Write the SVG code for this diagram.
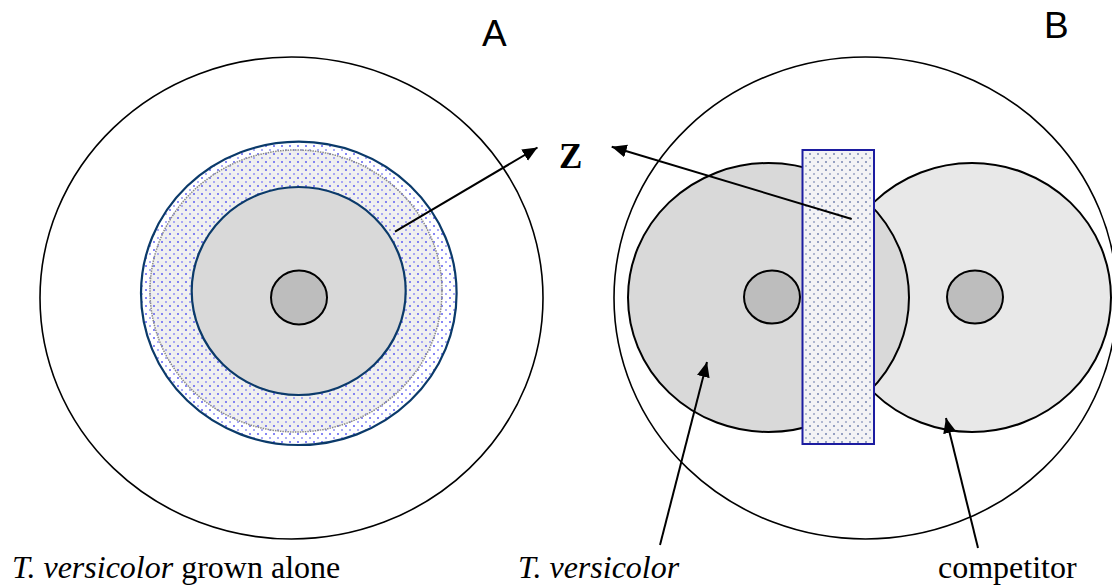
<svg xmlns="http://www.w3.org/2000/svg" width="1112" height="585" viewBox="0 0 1112 585">
  <style>
    .plate { fill: #ffffff; stroke: #000000; stroke-width: 1.6; }
    .navy { stroke: #0b3a6a; stroke-width: 2.2; }
    .plug { fill: #bdbdbd; stroke: #000000; stroke-width: 2; }
    .colony { stroke: #000000; stroke-width: 2; }
    .conn { stroke: #000000; stroke-width: 2; fill: none; marker-end: url(#arrow); }
    .lbl { font-family: "Liberation Serif", "Times New Roman", serif; font-size: 32px; fill: #000000; }
    .sans { font-family: "Liberation Sans", Arial, sans-serif; font-size: 37px; fill: #000000; }
  </style>
  <defs>
    <pattern id="dotsWhite" width="8" height="8" patternUnits="userSpaceOnUse">
      <rect width="8" height="8" fill="#ffffff"/>
      <circle cx="2" cy="2" r="1" fill="#5f5ff2"/>
      <circle cx="6" cy="6" r="1" fill="#8f8ff6"/>
    </pattern>
    <pattern id="dotsGray" width="8" height="8" patternUnits="userSpaceOnUse">
      <rect width="8" height="8" fill="#eeeeee"/>
      <path d="M0,4 H8 M4,0 V8" stroke="#f7f7f7" stroke-width="0.6"/>
      <circle cx="2" cy="2" r="1" fill="#5f5ff2"/>
      <circle cx="6" cy="6" r="1" fill="#8f8ff6"/>
    </pattern>
    <pattern id="dotsRect" width="8" height="8" patternUnits="userSpaceOnUse">
      <rect width="8" height="8" fill="#f3f3f5"/>
      <circle cx="2" cy="2" r="1" fill="#7585b0"/>
      <circle cx="6" cy="6" r="1" fill="#98a3c4"/>
    </pattern>
    <marker id="arrow" markerUnits="userSpaceOnUse" markerWidth="16" markerHeight="14" refX="15" refY="6.5" orient="auto">
      <path d="M0,0 L15,6.5 L0,13 z" fill="#000000"/>
    </marker>
  </defs>

  <g id="panelA">
    <ellipse cx="291.5" cy="298" rx="251.5" ry="241" class="plate"/>
    <ellipse cx="298.8" cy="293.3" rx="157.8" ry="151.7" fill="url(#dotsWhite)" class="navy"/>
    <ellipse cx="296" cy="291" rx="146" ry="141" fill="url(#dotsGray)" stroke="#8a8a8a" stroke-width="1.5" stroke-dasharray="1.5,1"/>
    <ellipse cx="298.7" cy="291" rx="107" ry="104" fill="#d9d9d9" class="navy"/>
    <ellipse cx="299" cy="297.5" rx="28" ry="27" class="plug"/>
  </g>

  <g id="panelB">
    <ellipse cx="865.5" cy="298" rx="251.5" ry="241" class="plate"/>
    <ellipse id="competitor-colony" cx="972" cy="297.5" rx="139" ry="134.5" fill="#e8e8e8" class="colony"/>
    <ellipse id="versicolor-colony" cx="768.5" cy="297.5" rx="140.5" ry="134.5" fill="#d9d9d9" class="colony"/>
    <ellipse cx="772" cy="297" rx="28" ry="26.5" class="plug"/>
    <ellipse cx="975" cy="297" rx="28" ry="26.5" class="plug"/>
    <rect id="zoneZ" x="802.5" y="150" width="71.5" height="294" fill="url(#dotsRect)" stroke="#1c1ca0" stroke-width="2"/>
  </g>

  <g id="connectors">
    <line x1="395" y1="231.7" x2="537.5" y2="147.5" class="conn"/>
    <line x1="851.7" y1="219" x2="611.7" y2="146.7" class="conn"/>
    <line x1="660" y1="545" x2="707" y2="362" class="conn"/>
    <line x1="978" y1="548" x2="946" y2="418" class="conn"/>
  </g>

  <g id="labels">
    <text x="482" y="46" class="sans">A</text>
    <text x="1044" y="38.3" class="sans">B</text>
    <text x="559" y="168" font-family="'Liberation Serif', 'Times New Roman', serif" font-weight="bold" font-size="35">Z</text>
    <text x="12" y="578.3" class="lbl"><tspan font-style="italic">T. versicolor</tspan> grown alone</text>
    <text x="518" y="578.3" class="lbl" font-style="italic">T. versicolor</text>
    <text x="938" y="578.3" class="lbl">competitor</text>
  </g>
</svg>
